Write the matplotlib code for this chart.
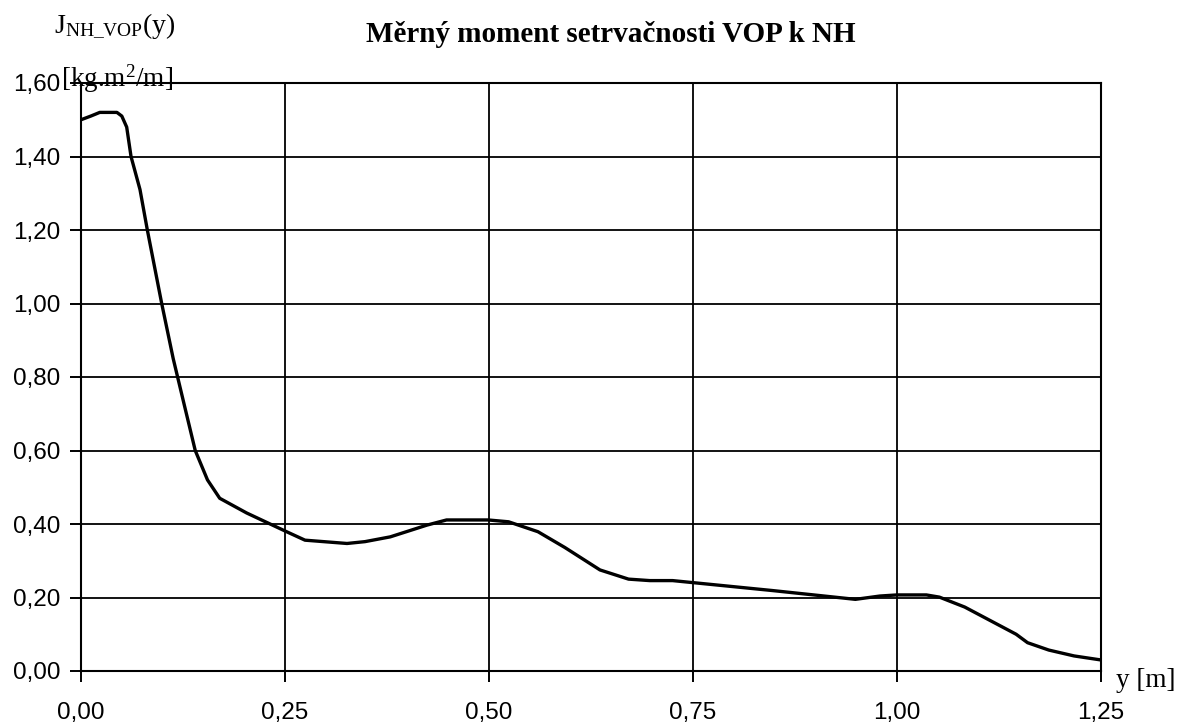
import matplotlib
matplotlib.use("Agg")
import matplotlib.pyplot as plt
from matplotlib.ticker import FuncFormatter

# Span position y [m] and specific moment of inertia [kg.m^2/m]
y_pos = [0.0, 0.012, 0.023, 0.044, 0.050, 0.056, 0.0613, 0.0723, 0.0813, 0.0989,
         0.113, 0.127, 0.140, 0.155, 0.170, 0.203, 0.251, 0.2745, 0.326, 0.348,
         0.379, 0.424, 0.448, 0.499, 0.524, 0.560, 0.593, 0.636, 0.671, 0.697,
         0.725, 0.847, 0.949, 0.979, 1.0, 1.036, 1.052, 1.083, 1.146, 1.160,
         1.186, 1.217, 1.25]
j_values = [1.50, 1.51, 1.52, 1.52, 1.51, 1.48, 1.40, 1.31, 1.20, 1.00,
            0.85, 0.72, 0.60, 0.52, 0.47, 0.43, 0.38, 0.356, 0.347, 0.352,
            0.365, 0.397, 0.411, 0.411, 0.406, 0.379, 0.336, 0.275, 0.250, 0.246,
            0.246, 0.219, 0.195, 0.204, 0.207, 0.207, 0.201, 0.174, 0.100, 0.077,
            0.057, 0.041, 0.030]

x_ticks = [0.0, 0.25, 0.5, 0.75, 1.0, 1.25]
y_ticks = [0.0, 0.2, 0.4, 0.6, 0.8, 1.0, 1.2, 1.4, 1.6]

plt.rcParams["mathtext.fontset"] = "custom"
plt.rcParams["mathtext.rm"] = "Liberation Serif"
plt.rcParams["mathtext.it"] = "Liberation Serif:italic"

W, H = 1183, 724
fig = plt.figure(figsize=(W / 100, H / 100), dpi=100)
ax = fig.add_axes([81 / W, 1 - 671 / H, 1020 / W, 588 / H])

ax.plot(y_pos, j_values, color="black", lw=2.4, solid_joinstyle="round")

ax.set_xlim(0, 1.25)
ax.set_ylim(0, 1.6)
ax.set_xticks(x_ticks)
ax.set_yticks(y_ticks)
comma = FuncFormatter(lambda v, p: f"{v:.2f}".replace(".", ","))
ax.xaxis.set_major_formatter(comma)
ax.yaxis.set_major_formatter(comma)
ax.grid(True, color="black", lw=1.3)
ax.set_axisbelow(True)
for s in ax.spines.values():
    s.set_linewidth(1.5)
    s.set_color("black")
ax.tick_params(axis="both", direction="out", length=8, width=1.4,
               labelsize=17.5, colors="black")
ax.tick_params(axis="x", pad=14)
ax.tick_params(axis="y", pad=7)
for lab in ax.get_xticklabels() + ax.get_yticklabels():
    lab.set_fontfamily("Liberation Sans")

fig.text(611 / W, 1 - 42 / H, "Měrný moment setrvačnosti VOP k NH",
         ha="center", va="baseline", fontsize=21, fontweight="bold",
         family="Liberation Serif")
fig.text(54 / W, 1 - 33 / H, r"J$_{\mathrm{NH\_VOP}}$(y)",
         ha="left", va="baseline", fontsize=20, family="Liberation Serif")
fig.text(61 / W, 1 - 87 / H, r"[kg.m$^{2}$/m]",
         ha="left", va="baseline", fontsize=19.5, family="Liberation Serif")
fig.text(1116 / W, 1 - 687 / H, "y [m]",
         ha="left", va="baseline", fontsize=19.5, family="Liberation Serif")

fig.savefig("out.png", dpi=100, facecolor="white")
